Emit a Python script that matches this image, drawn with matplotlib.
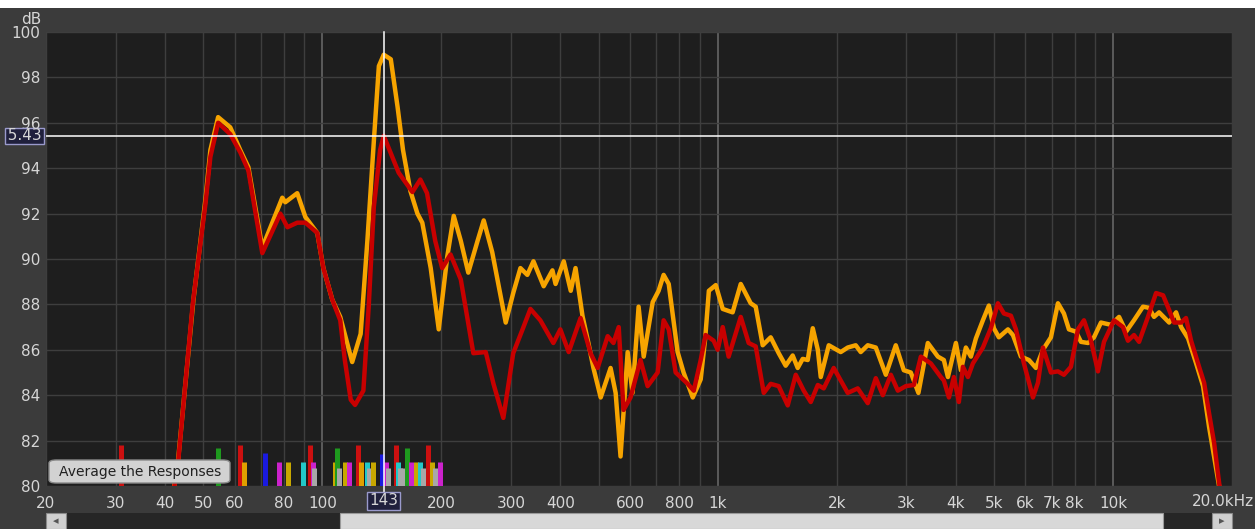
import matplotlib
matplotlib.use("Agg")
import matplotlib.pyplot as plt
from matplotlib.patches import Rectangle, FancyBboxPatch

# measured responses (Hz, dB)
orange_freq = [41.0, 43.2, 47.2, 50.6, 52.1, 54.5, 58.5, 62.0, 65.0, 70.5, 79.2, 80.6, 86.4, 90.6, 97.1,
               100.6, 106, 111, 119, 125, 130, 135, 139, 143, 149, 155, 160, 167, 174, 179, 188, 197,
               207, 215, 224, 234, 247, 256, 269, 291, 304, 317, 330, 342, 363, 382, 389, 408, 425,
               437, 455, 471, 485, 506, 536, 552, 568, 592, 609, 631, 650, 685, 709, 730, 752, 792,
               820, 865, 906, 930, 950, 989, 1030, 1091, 1144, 1212, 1248, 1300, 1362, 1427, 1486,
               1548, 1594, 1641, 1690, 1740, 1792, 1823, 1910, 2048, 2133, 2235, 2301, 2397, 2512,
               2663, 2822, 2957, 3080, 3172, 3220, 3401, 3606, 3734, 3823, 4005, 4124, 4245, 4371,
               4500, 4687, 4854, 4997, 5144, 5424, 5584, 5850, 6129, 6383, 6649, 6966, 7256, 7514,
               7736, 8058, 8299, 8645, 8952, 9324, 9883, 10360, 10790, 11300, 11910, 12330, 12700,
               13080, 13870, 14440, 14870, 15490, 16230, 16900, 17500, 18020, 18550, 19100]
orange_db = [78.5, 81.2, 88.2, 92.6, 94.8, 96.25, 95.8, 94.8, 94.05, 90.5, 92.7, 92.5, 92.9, 91.85, 91.15,
             89.6, 88.2, 87.45, 85.46, 86.7, 90.8, 95.2, 98.5, 99.0, 98.8, 96.7, 94.8, 93.0, 92.0, 91.6,
             89.6, 86.9, 90.1, 91.9, 90.8, 89.4, 90.8, 91.7, 90.3, 87.2, 88.5, 89.6, 89.3, 89.9, 88.8,
             89.5, 88.9, 89.9, 88.6, 89.6, 87.5, 86.3, 85.2, 83.9, 85.2, 84.1, 81.3, 85.9, 84.1, 87.9,
             85.7, 88.1, 88.6, 89.3, 88.9, 85.9, 85.0, 83.9, 84.7, 86.5, 88.6, 88.85, 87.8, 87.65, 88.9,
             88.05, 87.9, 86.2, 86.55, 85.85, 85.3, 85.75, 85.2, 85.6, 85.55, 86.95, 86.0, 84.8, 86.2,
             85.9, 86.1, 86.2, 85.9, 86.2, 86.1, 84.9, 86.2, 85.1, 85.0, 84.4, 84.1, 86.3, 85.7, 85.55,
             84.8, 86.3, 85.1, 86.1, 85.7, 86.5, 87.3, 87.95, 86.95, 86.55, 86.9, 86.65, 85.7, 85.55,
             85.2, 86.0, 86.55, 88.05, 87.6, 86.9, 86.8, 86.35, 86.3, 86.55, 87.2, 87.1, 87.45, 86.8,
             87.3, 87.9, 87.85, 87.45, 87.65, 87.2, 87.65, 87.0, 86.5, 85.4, 84.4, 82.6, 81.3, 80.0, 78.5]

red_freq = [41.0, 43.2, 47.0, 50.6, 52.1, 54.5, 58.5, 62.0, 65.0, 70.5, 78.3, 81.6, 86.4, 90.6, 97.1,
            100.6, 106, 111, 114, 118, 121, 127, 131, 135, 140, 143, 156, 169, 177, 184, 193, 201,
            211, 224, 241, 259, 271, 287, 304, 321, 336, 356, 384, 400, 420, 450, 477, 497, 527,
            545, 562, 578, 602, 638, 665, 705, 730, 752, 783, 840, 870, 906, 932, 977, 1000, 1030,
            1066, 1144, 1198, 1248, 1308, 1362, 1427, 1504, 1576, 1651, 1720, 1792, 1855, 1966,
            2133, 2261, 2397, 2512, 2617, 2742, 2856, 2992, 3135, 3266, 3461, 3669, 3734, 3846,
            3958, 4075, 4172, 4296, 4422, 4687, 4910, 5115, 5297, 5519, 5682, 5953, 6274, 6459,
            6649, 6966, 7256, 7514, 7826, 8153, 8444, 8796, 9162, 9489, 10060, 10600, 10910, 11300,
            11640, 12260, 12850, 13390, 13870, 14270, 14870, 15300, 15760, 16510, 17000, 17500,
            18020, 18550, 19100]
red_db = [78.5, 81.1, 88.0, 92.4, 94.5, 96.0, 95.5, 94.7, 93.9, 90.26, 92.0, 91.4, 91.6, 91.6, 91.15,
          89.6, 88.2, 87.3, 85.55, 83.8, 83.57, 84.2, 87.9, 92.3, 94.8, 95.43, 93.8, 92.95, 93.5, 92.9,
          90.8, 89.6, 90.2, 89.1, 85.85, 85.9, 84.5, 83.0, 85.85, 86.9, 87.8, 87.3, 86.3, 86.9, 85.9,
          87.4, 85.85, 85.2, 86.6, 86.3, 87.0, 83.35, 83.9, 85.55, 84.4, 85.0, 87.3, 86.9, 85.0, 84.5,
          84.2, 85.55, 86.65, 86.4, 86.0, 87.0, 85.7, 87.45, 86.3, 86.15, 84.1, 84.5, 84.4, 83.55,
          84.9, 84.2, 83.7, 84.45, 84.3, 85.2, 84.1, 84.3, 83.65, 84.75, 84.0, 84.9, 84.2, 84.4,
          84.45, 85.7, 85.4, 84.8, 84.65, 83.9, 84.8, 83.7, 85.25, 84.8, 85.4, 86.1, 86.95, 88.05,
          87.6, 87.5, 86.9, 85.4, 83.9, 84.55, 86.1, 85.0, 85.05, 84.9, 85.25, 86.9, 87.3, 86.4,
          85.05, 86.35, 87.3, 87.0, 86.4, 86.65, 86.35, 87.45, 88.5, 88.4, 87.75, 87.2, 87.2, 87.4,
          86.4, 85.25, 84.55, 83.2, 81.9, 80.15, 78.5]

# room mode markers along the bottom (Hz, top in dB, colour)
mode_freq = [30.9, 54.6, 61.8, 63.5, 71.5, 77.6, 82.0, 89.5, 93.0, 94.5, 95.5,
             107.9, 109.0, 110.5, 114.0, 117.0, 123.0, 125.5, 129.6, 131.5, 134.6,
             141.5, 144.5, 147.0, 153.5, 155.0, 157.5, 160.0, 164.0, 168.0, 173.0,
             177.0, 180.0, 185.0, 189.0, 193.0, 199.0]
mode_top = [81.8, 81.67, 81.8, 81.05, 81.45, 81.05, 81.05, 81.05, 81.8, 81.05, 80.8,
            81.05, 81.67, 80.8, 81.05, 81.05, 81.8, 81.05, 81.05, 80.8, 81.05,
            81.4, 81.05, 80.8, 81.8, 81.05, 80.8, 80.8, 81.67, 81.05, 81.05,
            81.05, 80.8, 81.8, 81.05, 80.8, 81.05]
mode_color = ['#cc1010', '#1e9a1e', '#cc1010', '#e0a000', '#1a1ae0', '#cc22cc', '#c8a800', '#22c8c8',
              '#cc1010', '#cc22cc', '#a8a8a8',
              '#c8a800', '#1e9a1e', '#a8a8a8', '#c8a800', '#cc22cc', '#cc1010', '#e0a000', '#22c8c8',
              '#a8a8a8', '#c8a800',
              '#1a1ae0', '#cc22cc', '#a8a8a8', '#cc1010', '#22c8c8', '#a8a8a8', '#a8a8a8', '#1e9a1e',
              '#cc22cc', '#c8a800', '#22c8c8', '#a8a8a8', '#cc1010', '#c8a800', '#a8a8a8', '#cc22cc']

grid_freq = [20, 30, 40, 50, 60, 70, 80, 90, 100, 200, 300, 400, 500, 600, 700, 800, 900,
             1000, 2000, 3000, 4000, 5000, 6000, 7000, 8000, 9000, 10000, 20000]
tick_freq = [20, 30, 40, 50, 60, 80, 100, 200, 300, 400, 600, 800, 1000, 2000, 3000, 4000,
             5000, 6000, 7000, 8000, 10000]
tick_text = ['20', '30', '40', '50', '60', '80', '100', '200', '300', '400', '600', '800', '1k',
             '2k', '3k', '4k', '5k', '6k', '7k', '8k', '10k']
db_ticks = list(range(80, 101, 2))

cursor_freq = 143
cursor_db = 95.43

W, H = 1255, 529
TXT = '#d6d6d6'
FS = 11
plt.rcParams['font.family'] = ['DejaVu Sans']

fig = plt.figure(figsize=(W / 100, H / 100), dpi=100, facecolor='#3b3b3b')


def px_rect(x0, y0, x1, y1, **kw):
    # rectangle given in pixel coordinates from the top-left corner
    r = Rectangle((x0 / W, 1 - y1 / H), (x1 - x0) / W, (y1 - y0) / H,
                  transform=fig.transFigure, **kw)
    fig.patches.append(r)
    return r


px_rect(0, 0, W, 8, facecolor='white', edgecolor='none')

ax = fig.add_axes([46 / W, 1 - 486 / H, (1232 - 46) / W, (486 - 32) / H])
ax.set_facecolor('#1e1e1e')
ax.set_xscale('log')
ax.set_xlim(20, 20000)
ax.set_ylim(80, 100)
for s in ax.spines.values():
    s.set_visible(False)

for f in grid_freq:
    major = f in (100, 1000, 10000)
    ax.axvline(f, color='#606060' if major else '#3e3e3e', lw=1.3 if major else 1.0, zorder=1)
for d in db_ticks:
    ax.axhline(d, color='#3e3e3e', lw=1.0, zorder=1)

ax.set_xticks(tick_freq, tick_text)
ax.set_xticks([], minor=True)
ax.set_yticks(db_ticks)
ax.tick_params(axis='both', length=0, colors=TXT, labelsize=FS)
ax.tick_params(axis='x', pad=7.5)
ax.tick_params(axis='y', pad=4)
fig.text(1254 / W, 1 - 501 / H, '20.0kHz', ha='right', va='center', color=TXT, fontsize=FS)
fig.text(31 / W, 1 - 19 / H, 'dB', ha='center', va='center', color=TXT, fontsize=FS)

ax.vlines(mode_freq, 80, mode_top, colors=mode_color, lw=3.6, capstyle='butt', zorder=2)

ax.plot(orange_freq, orange_db, color='#f7a400', lw=3.2, solid_joinstyle='round',
        solid_capstyle='round', zorder=3)
ax.plot(red_freq, red_db, color='#c80000', lw=3.2, solid_joinstyle='round',
        solid_capstyle='round', zorder=3)

# cursor
ax.plot([cursor_freq, cursor_freq], [100, 79.7], color='white', lw=1.1, clip_on=False, zorder=4)
ax.axhline(cursor_db, color='white', lw=1.1, zorder=4)
ax.text(cursor_freq, 79.34, str(cursor_freq), ha='center', va='center', color=TXT, fontsize=FS,
        clip_on=False, zorder=5,
        bbox=dict(boxstyle='square,pad=0.12', fc='#20203c', ec='#9a9acc', lw=1))
px_rect(5, 128, 44, 144, facecolor='#20203c', edgecolor='#9a9acc', lw=1, zorder=5)
# the readout is wider than its box, only the tail shows
clip = px_rect(7.5, 128, 44, 144, facecolor='none', edgecolor='none')
lab = fig.text(42 / W, 1 - 136 / H, f'{cursor_db:.2f}', ha='right', va='center', color=TXT,
               fontsize=FS, zorder=6)
lab.set_clip_path(clip)

# button
btn = FancyBboxPatch((49 / W, 1 - 483 / H), 181 / W, 23 / H,
                     boxstyle='round,pad=0,rounding_size=0.006', transform=fig.transFigure,
                     facecolor='#d2d2d2', edgecolor='#8a8a8a', lw=1, zorder=6)
fig.patches.append(btn)
fig.text(140 / W, 1 - 472 / H, 'Average the Responses', ha='center', va='center',
         color='#202020', fontsize=10, zorder=7)

# scroll bar
px_rect(46, 513, 1232, 529, facecolor='#262626', edgecolor='none')
px_rect(46, 513, 66, 529, facecolor='#cfcfcf', edgecolor='#8a8a8a', lw=0.8)
px_rect(340, 513, 1163, 529, facecolor='#d8d8d8', edgecolor='#9a9a9a', lw=0.8)
px_rect(1212, 513, 1232, 529, facecolor='#cfcfcf', edgecolor='#8a8a8a', lw=0.8)
fig.text(56 / W, 1 - 521 / H, '◂', ha='center', va='center', color='#555555', fontsize=8)
fig.text(1222 / W, 1 - 521 / H, '▸', ha='center', va='center', color='#555555', fontsize=8)

fig.savefig('out.png', dpi=100, facecolor=fig.get_facecolor())
